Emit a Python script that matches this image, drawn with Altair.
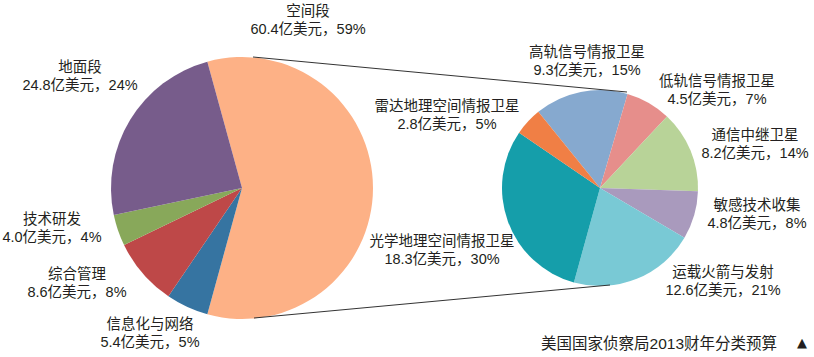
import math
import altair as alt
import pandas as pd

# ---- data ----
left_cats = ["空间段", "信息化与网络", "综合管理", "技术研发", "地面段"]
left_vals = [60.4, 5.4, 8.6, 4.0, 24.8]
left_pcts = [59, 5, 8, 4, 24]

right_cats = ["高轨信号情报卫星", "低轨信号情报卫星", "通信中继卫星", "敏感技术收集",
              "运载火箭与发射", "光学地理空间情报卫星", "雷达地理空间情报卫星"]
right_vals = [9.3, 4.5, 8.2, 4.8, 12.6, 18.3, 2.8]
right_pcts = [15, 7, 14, 8, 21, 30, 5]

footer = "美国国家侦察局2013财年分类预算"

# ---- styles ----
left_colors = ["#FDB186", "#3674A1", "#BE4848", "#88A85A", "#775C8B"]
right_colors = ["#86A9CF", "#E68E8B", "#B8D398", "#A99ABD", "#79C9D5", "#159EAA", "#F07F45"]
FONT = "'Liberation Sans', 'Noto Sans CJK SC'"
TXT = "#231F20"
FS = 14.5

# layout (pixel positions: center x, first-line center y)
LEFT_CENTER = (242, 188, 131)
RIGHT_CENTER = (600, 188, 98)
LABEL_POS = {
    "空间段": (308, 12),
    "地面段": (80, 68),
    "技术研发": (52, 220),
    "综合管理": (77, 275),
    "信息化与网络": (150, 325),
    "高轨信号情报卫星": (587, 53),
    "低轨信号情报卫星": (717, 82),
    "通信中继卫星": (755, 136),
    "敏感技术收集": (757, 206),
    "运载火箭与发射": (723, 273),
    "光学地理空间情报卫星": (442, 242),
    "雷达地理空间情报卫星": (447, 107),
}

all_cats = left_cats + right_cats
all_colors = left_colors + right_colors
color_scale = alt.Scale(domain=all_cats, range=all_colors)

left_df = pd.DataFrame({"cat": left_cats, "val": left_vals, "idx": range(len(left_cats))})
right_df = pd.DataFrame({"cat": right_cats, "val": right_vals, "idx": range(len(right_cats))})

# left pie: first slice centred on the right (90 deg)
frac0 = left_vals[0] / sum(left_vals)
l_start = 2 * math.pi + math.pi / 2 - math.pi * frac0
r_start = 2 * math.pi - math.radians(39)


def pie(df, center, start):
    cx, cy, r = center
    return alt.Chart(df).mark_arc(radius=r).encode(
        x=alt.value(cx), y=alt.value(cy),
        theta=alt.Theta("val:Q", stack=True,
                        scale=alt.Scale(range=[start, start + 2 * math.pi])),
        order=alt.Order("idx:Q"),
        color=alt.Color("cat:N", scale=color_scale, legend=None),
    )


layers = [pie(left_df, LEFT_CENTER, l_start), pie(right_df, RIGHT_CENTER, r_start)]

# connector lines
conn = alt.Chart(pd.DataFrame({"a": [0]}))
layers.append(conn.mark_rule(color="#333333", strokeWidth=1).encode(
    x=alt.value(253), y=alt.value(57), x2=alt.value(627), y2=alt.value(92)))
layers.append(conn.mark_rule(color="#333333", strokeWidth=1).encode(
    x=alt.value(254), y=alt.value(318), x2=alt.value(610), y2=alt.value(285)))

# labels
for cats, vals, pcts in [(left_cats, left_vals, left_pcts), (right_cats, right_vals, right_pcts)]:
    for c, v, p in zip(cats, vals, pcts):
        x, y = LABEL_POS[c]
        txt = [c, f"{v:.1f}亿美元，{p}%"]
        layers.append(alt.Chart(pd.DataFrame({"t": [txt]})).mark_text(
            font=FONT, fontSize=FS, color=TXT, align="center", baseline="middle",
            lineHeight=18).encode(text="t", x=alt.value(x), y=alt.value(y)))

layers.append(alt.Chart(pd.DataFrame({"t": [footer]})).mark_text(
    font=FONT, fontSize=15.5, color=TXT, align="right", baseline="middle").encode(
    text="t", x=alt.value(777), y=alt.value(344)))
layers.append(alt.Chart(pd.DataFrame({"t": ["▲"]})).mark_text(
    font="DejaVu Sans", fontSize=13, color=TXT, align="center", baseline="middle").encode(
    text="t", x=alt.value(802), y=alt.value(343)))

chart = alt.layer(*layers).resolve_scale(theta="independent").properties(
    width=814, height=357, padding=0,
    autosize=alt.AutoSizeParams(type="none"),
    background="white",
).configure_view(strokeWidth=0)

chart.save("out.html", embed_options={"renderer": "svg", "actions": False})
